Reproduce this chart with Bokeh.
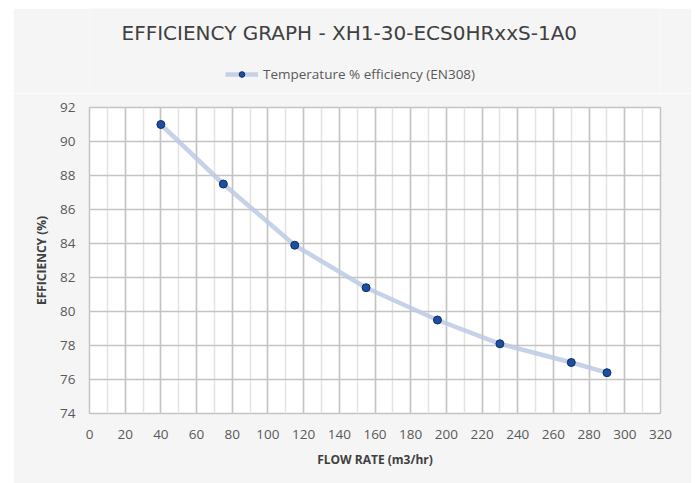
from bokeh.plotting import figure
from bokeh.layouts import column
from bokeh.models import Range1d, FixedTicker, Legend, LegendItem, Label
from bokeh.embed import file_html
from bokeh.resources import INLINE

# data
flow_rate = [40, 75, 115, 155, 195, 230, 270, 290]
efficiency = [91.0, 87.5, 83.9, 81.4, 79.5, 78.1, 77.0, 76.4]
x_ticks = list(range(0, 321, 20))
x_minor = list(range(0, 321, 10))
y_ticks = list(range(74, 93, 2))
title_text = "EFFICIENCY  GRAPH - XH1-30-ECS0HRxxS-1A0"
series_name = "Temperature % efficiency (EN308)"
x_title = "FLOW RATE (m3/hr)"
y_title = "EFFICIENCY (%)"

FONT = "Open Sans"
BG = "#f5f5f5"
LINE_COLOR = "#bccae4"
DOT_FILL = "#1d4f9f"
DOT_LINE = "#0f2d68"

# ---- header (title + legend); its ranges keep the series itself out of view ----
top = figure(width=678, height=85, output_backend="svg", toolbar_location=None,
             x_axis_type=None, y_axis_type=None, title=None,
             x_range=Range1d(0, 1), y_range=Range1d(0, 1), min_border=0)
top.background_fill_color = BG
top.border_fill_color = BG
top.outline_line_color = None
top.grid.visible = False

top.add_layout(Label(x=263, y=61, x_units="screen", y_units="screen", text=title_text,
                     text_align="center", text_baseline="middle", text_font="DejaVu Sans",
                     text_font_size="20px", text_color="#404040"))

leg_line = top.line(flow_rate, efficiency, line_color=LINE_COLOR, line_width=4.5, line_alpha=0.85)
leg_dot = top.scatter(flow_rate, efficiency, size=8, fill_color=DOT_FILL, line_color=DOT_LINE, line_width=1)
legend = Legend(items=[LegendItem(label=series_name, renderers=[leg_line, leg_dot])],
                orientation="horizontal", location=(136, 10),
                background_fill_alpha=0, border_line_color=None,
                label_text_font=FONT, label_text_font_size="13.5px", label_text_color="#595959",
                glyph_width=33, glyph_height=14, label_standoff=5, padding=4, margin=0)
top.add_layout(legend)

# ---- main chart ----
p = figure(width=678, height=390, output_backend="svg", toolbar_location=None, title=None,
           x_range=Range1d(0, 320), y_range=Range1d(74, 92),
           min_border_left=76, min_border_right=31, min_border_top=14, min_border_bottom=70)

p.background_fill_color = "white"
p.border_fill_color = BG
p.outline_line_color = "#c4c4c4"
p.outline_line_width = 1.5

p.xgrid.ticker = FixedTicker(ticks=x_ticks, minor_ticks=x_minor)
p.xgrid.grid_line_color = "#c4c4c4"
p.xgrid.grid_line_width = 1.5
p.xgrid.minor_grid_line_color = "#e3e3e3"
p.xgrid.minor_grid_line_width = 1.5
p.ygrid.ticker = FixedTicker(ticks=y_ticks)
p.ygrid.grid_line_color = "#c4c4c4"
p.ygrid.grid_line_width = 1.5

p.xaxis.ticker = FixedTicker(ticks=x_ticks)
p.yaxis.ticker = FixedTicker(ticks=y_ticks)
for ax in (p.xaxis[0], p.yaxis[0]):
    ax.axis_line_color = None
    ax.major_tick_line_color = None
    ax.minor_tick_line_color = None
    ax.major_tick_out = 0
    ax.minor_tick_out = 0
    ax.major_label_text_font = FONT
    ax.major_label_text_font_size = "13.5px"
    ax.major_label_text_color = "#595959"
    ax.axis_label_text_font = FONT
    ax.axis_label_text_font_size = "12px"
    ax.axis_label_text_font_style = "bold"
    ax.axis_label_text_color = "#404040"
p.xaxis.axis_label = x_title
p.yaxis.axis_label = y_title
p.xaxis.major_label_standoff = 16
p.yaxis.major_label_standoff = 14
p.xaxis.axis_label_standoff = 9
p.yaxis.axis_label_standoff = 7

p.line(flow_rate, efficiency, line_color=LINE_COLOR, line_width=4.5, line_alpha=0.85)
p.scatter(flow_rate, efficiency, size=8, fill_color=DOT_FILL, line_color=DOT_LINE, line_width=1)

layout = column(top, p, spacing=0, margin=(8, 0, 0, 13))

open("out.html", "w").write(file_html(layout, INLINE))
